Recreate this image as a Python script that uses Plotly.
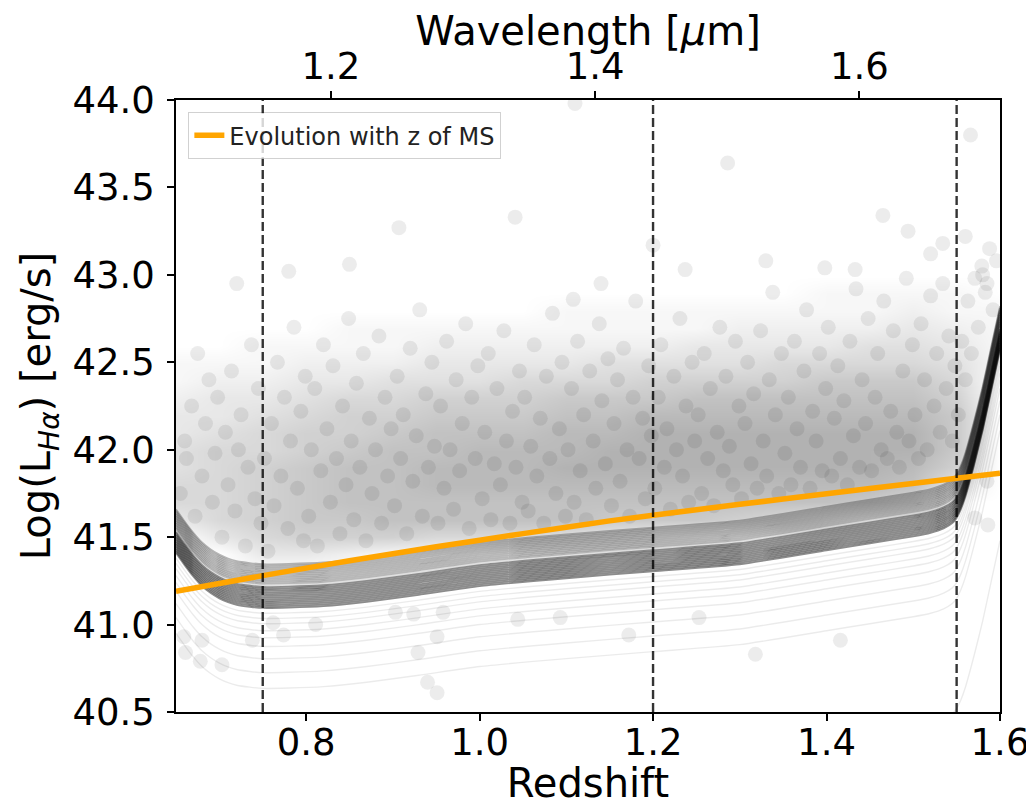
import numpy as np
import plotly.graph_objects as go

# ---------------- axes / reference values ----------------
z_range = [0.65, 1.6]
L_range = [40.5, 44.0]
HA_REST_UM = 0.65628
x_ticks = [0.8, 1.0, 1.2, 1.4, 1.6]
y_ticks = [40.5, 41.0, 41.5, 42.0, 42.5, 43.0, 43.5, 44.0]
wave_ticks = [1.2, 1.4, 1.6]
survey_z_limits = [0.75, 1.2, 1.55]

# ---------------- main-sequence evolution (orange) ----------------
ms_z = [0.65, 0.75, 0.85, 0.95, 1.05, 1.15, 1.25, 1.35, 1.45, 1.55, 1.60]
ms_L = [41.19, 41.28, 41.365, 41.445, 41.52, 41.593, 41.657, 41.718, 41.778, 41.837, 41.866]

# ---------------- flux-limit curves (black family) ----------------
limit_z = [0.65, 0.66, 0.67, 0.68, 0.69, 0.70, 0.71, 0.72, 0.735, 0.75, 0.78, 0.82,
           0.87, 0.93, 1.00, 1.10, 1.20, 1.30, 1.40, 1.45, 1.50, 1.52, 1.535, 1.545,
           1.55, 1.555, 1.56, 1.57, 1.58, 1.59, 1.60]
limit_L = [41.52, 41.45, 41.385, 41.33, 41.29, 41.26, 41.238, 41.223, 41.212, 41.205,
           41.207, 41.215, 41.24, 41.28, 41.33, 41.375, 41.415, 41.455, 41.535, 41.575,
           41.615, 41.635, 41.66, 41.69, 41.72, 41.77, 41.84, 42.02, 42.22, 42.45, 42.68]
limit_offsets_upper = [0.14, 0.13, 0.12, 0.11, 0.10, 0.09, 0.08, 0.07, 0.06, 0.05, 0.04, 0.03]
limit_offsets_gap = [0.02]
limit_offsets_lower = [0.01, 0.0, -0.01, -0.02, -0.03, -0.04, -0.05, -0.06, -0.07, -0.08,
                       -0.09, -0.10, -0.11]
limit_offsets_faint = [-0.14, -0.17, -0.20, -0.24, -0.28, -0.33, -0.40, -0.48, -0.57, -1.20]

# ---------------- galaxy cloud density (0-10) ----------------
density_z = [0.65, 0.70, 0.75, 0.80, 0.85, 0.90, 0.95, 1.00, 1.05, 1.10,
             1.15, 1.20, 1.25, 1.30, 1.35, 1.40, 1.45, 1.50, 1.55, 1.60]
density_L = [41.3, 41.4, 41.5, 41.6, 41.7, 41.8, 41.9, 42.0, 42.1, 42.2,
             42.3, 42.4, 42.5, 42.6, 42.7, 42.8, 42.9, 43.0, 43.1, 43.2]
density_by_z = [
    [0, 0, 0, 3, 5, 5, 4, 4, 3, 3, 2, 1, 1, 0, 0, 0, 0, 0, 0, 0],
    [0, 0, 3, 5, 5, 5, 5, 5, 4, 3, 3, 2, 1, 0, 0, 0, 0, 0, 0, 0],
    [0, 3, 5, 6, 6, 6, 6, 5, 5, 4, 3, 2, 1, 1, 0, 0, 0, 0, 0, 0],
    [0, 3, 6, 7, 7, 7, 7, 6, 6, 5, 4, 3, 2, 1, 0, 0, 0, 0, 0, 0],
    [0, 2, 6, 7, 8, 8, 8, 7, 6, 6, 5, 3, 2, 1, 1, 0, 0, 0, 0, 0],
    [0, 1, 6, 8, 8, 8, 8, 8, 7, 6, 5, 4, 2, 1, 1, 0, 0, 0, 0, 0],
    [0, 1, 5, 8, 8, 9, 9, 8, 8, 7, 6, 4, 3, 2, 1, 0, 0, 0, 0, 0],
    [0, 0, 5, 8, 8, 9, 9, 9, 8, 7, 6, 4, 3, 2, 1, 0, 0, 0, 0, 0],
    [0, 0, 5, 8, 8, 9, 9, 9, 8, 7, 6, 5, 3, 2, 1, 0, 0, 0, 0, 0],
    [0, 0, 4, 8, 8, 9, 10, 9, 9, 8, 7, 5, 3, 2, 1, 1, 0, 0, 0, 0],
    [0, 0, 3, 7, 8, 9, 10, 10, 9, 8, 7, 5, 4, 2, 1, 1, 0, 0, 0, 0],
    [0, 0, 2, 7, 8, 9, 10, 10, 10, 9, 7, 6, 4, 2, 1, 1, 0, 0, 0, 0],
    [0, 0, 1, 7, 8, 9, 10, 10, 10, 9, 8, 6, 4, 3, 1, 1, 0, 0, 0, 0],
    [0, 0, 0, 6, 8, 9, 10, 10, 10, 9, 8, 6, 4, 3, 2, 1, 0, 0, 0, 0],
    [0, 0, 0, 5, 8, 9, 10, 10, 10, 9, 8, 6, 5, 3, 2, 1, 0, 0, 0, 0],
    [0, 0, 0, 3, 8, 9, 10, 10, 10, 9, 8, 7, 5, 3, 2, 1, 1, 0, 0, 0],
    [0, 0, 0, 1, 7, 9, 10, 10, 10, 9, 8, 7, 5, 4, 2, 1, 1, 0, 0, 0],
    [0, 0, 0, 0, 5, 8, 9, 10, 10, 9, 8, 7, 5, 4, 3, 2, 1, 0, 0, 0],
    [0, 0, 0, 0, 0, 3, 6, 7, 7, 7, 6, 5, 4, 3, 2, 1, 1, 0, 0, 0],
    [0, 0, 0, 0, 0, 0, 0, 0, 0, 0, 0, 0, 1, 1, 1, 1, 0, 0, 0, 0],
]

# ---------------- individual galaxies (redshift, log L) ----------------
cloud_points = [
    (0.655, 41.75), (0.660, 42.05), (0.662, 41.95), (0.668, 42.25), (0.672, 41.62), (0.675, 42.55),
    (0.680, 41.85), (0.684, 42.15), (0.688, 42.40), (0.692, 41.70), (0.695, 41.98), (0.698, 42.30),
    (0.703, 41.50), (0.707, 42.10), (0.710, 41.80), (0.714, 42.45), (0.718, 41.65), (0.722, 42.00),
    (0.725, 42.20), (0.730, 41.45), (0.733, 41.90), (0.737, 42.60), (0.741, 41.72), (0.745, 42.35),
    (0.748, 41.58), (0.752, 41.95), (0.756, 41.42), (0.760, 42.15), (0.763, 41.68), (0.767, 42.50),
    (0.771, 41.85), (0.775, 42.30), (0.779, 41.55), (0.782, 42.05), (0.786, 42.70), (0.790, 41.78),
    (0.794, 42.22), (0.797, 41.48), (0.799, 42.42), (0.803, 41.62), (0.806, 42.00), (0.810, 42.35),
    (0.813, 41.45), (0.817, 41.88), (0.820, 42.60), (0.824, 42.12), (0.828, 41.70), (0.831, 42.48),
    (0.835, 41.95), (0.839, 41.52), (0.842, 42.25), (0.846, 41.80), (0.849, 42.75), (0.852, 42.05),
    (0.855, 41.60), (0.858, 42.38), (0.862, 41.90), (0.866, 42.55), (0.869, 41.48), (0.873, 42.18),
    (0.876, 41.75), (0.880, 42.00), (0.884, 42.65), (0.887, 41.58), (0.891, 42.30), (0.894, 41.85),
    (0.898, 42.12), (0.902, 41.68), (0.905, 42.42), (0.909, 41.95), (0.912, 42.20), (0.916, 41.52),
    (0.920, 42.58), (0.923, 41.82), (0.927, 42.08), (0.931, 42.80), (0.934, 41.62), (0.938, 42.32),
    (0.941, 41.90), (0.945, 42.50), (0.948, 42.02), (0.952, 41.58), (0.955, 42.25), (0.959, 41.78),
    (0.962, 42.62), (0.966, 42.00), (0.970, 41.66), (0.973, 42.40), (0.977, 41.88), (0.980, 42.15),
    (0.984, 42.72), (0.988, 41.55), (0.991, 42.30), (0.995, 41.95), (0.998, 42.48), (1.003, 41.72),
    (1.006, 42.10), (1.010, 42.55), (1.013, 41.60), (1.017, 41.92), (1.020, 42.35), (1.024, 41.80),
    (1.028, 42.68), (1.031, 42.05), (1.035, 41.58), (1.038, 42.22), (1.042, 41.90), (1.046, 42.45),
    (1.049, 41.70), (1.052, 42.30), (1.056, 41.65), (1.059, 42.02), (1.063, 42.60), (1.066, 41.85),
    (1.070, 42.18), (1.074, 41.58), (1.077, 42.42), (1.081, 41.95), (1.084, 42.78), (1.088, 41.75),
    (1.092, 42.12), (1.095, 42.50), (1.099, 41.62), (1.102, 42.00), (1.106, 42.35), (1.109, 41.70),
    (1.113, 42.62), (1.116, 41.88), (1.120, 42.20), (1.123, 41.60), (1.127, 42.45), (1.131, 42.05),
    (1.134, 41.78), (1.138, 42.72), (1.141, 42.28), (1.145, 41.92), (1.148, 42.52), (1.152, 41.68),
    (1.155, 42.15), (1.159, 42.40), (1.162, 41.82), (1.166, 42.58), (1.170, 42.00), (1.173, 41.62),
    (1.177, 42.30), (1.180, 42.85), (1.184, 41.95), (1.188, 42.18), (1.191, 41.72), (1.195, 42.48),
    (1.198, 42.08), (1.202, 41.78), (1.206, 42.30), (1.209, 42.60), (1.213, 41.90), (1.216, 42.12),
    (1.220, 41.66), (1.224, 42.42), (1.227, 42.00), (1.231, 42.75), (1.234, 41.85), (1.238, 42.25),
    (1.241, 41.70), (1.245, 42.50), (1.248, 42.05), (1.252, 42.20), (1.256, 41.75), (1.259, 42.55),
    (1.263, 41.95), (1.266, 42.35), (1.270, 41.68), (1.274, 42.10), (1.277, 42.70), (1.281, 41.88),
    (1.284, 42.42), (1.288, 42.02), (1.292, 41.80), (1.295, 42.62), (1.299, 42.25), (1.302, 41.72),
    (1.306, 42.15), (1.309, 42.50), (1.313, 41.92), (1.316, 42.32), (1.320, 41.78), (1.324, 42.68),
    (1.327, 42.05), (1.331, 41.85), (1.334, 42.40), (1.338, 42.90), (1.341, 42.20), (1.345, 41.75),
    (1.348, 42.55), (1.352, 41.98), (1.356, 42.30), (1.359, 41.80), (1.363, 42.62), (1.366, 42.12),
    (1.370, 41.90), (1.374, 42.45), (1.377, 42.80), (1.381, 41.78), (1.384, 42.22), (1.388, 42.05),
    (1.392, 42.55), (1.395, 41.88), (1.399, 42.35), (1.402, 42.70), (1.406, 41.85), (1.409, 42.18),
    (1.413, 42.48), (1.416, 41.95), (1.420, 42.28), (1.424, 41.80), (1.427, 42.62), (1.431, 42.08),
    (1.434, 42.92), (1.438, 41.90), (1.441, 42.40), (1.445, 42.15), (1.448, 42.75), (1.452, 41.88),
    (1.456, 42.30), (1.459, 42.55), (1.463, 42.00), (1.466, 42.85), (1.470, 41.95), (1.474, 42.22),
    (1.477, 42.68), (1.481, 42.10), (1.484, 41.90), (1.488, 42.45), (1.492, 42.98), (1.495, 42.05),
    (1.499, 42.60), (1.502, 42.20), (1.506, 41.95), (1.509, 42.72), (1.513, 42.40), (1.516, 42.00),
    (1.520, 42.88), (1.524, 42.25), (1.527, 42.55), (1.531, 42.10), (1.534, 42.95), (1.538, 42.35),
    (1.541, 42.65), (1.545, 42.05), (1.548, 42.48), (1.552, 42.20), (1.556, 42.62), (1.560, 42.40),
    (1.563, 42.85), (1.567, 42.55), (1.571, 42.98), (1.575, 42.70), (1.579, 43.05), (1.583, 42.90),
    (1.588, 43.15), (1.592, 42.80), (1.596, 43.08),
]
outlier_points = [
    (1.110, 43.98), (1.566, 43.80), (1.286, 43.64), (1.465, 43.34), (0.907, 43.27), (1.041, 43.33),
    (1.494, 43.25), (1.534, 43.18), (1.560, 43.22), (0.850, 43.06), (1.108, 42.86), (1.140, 42.95),
    (1.237, 43.03), (1.200, 43.17), (1.398, 43.04), (1.433, 43.03), (0.780, 43.02), (0.720, 42.95),
    (1.330, 43.08), (1.520, 43.12), (1.580, 43.00), (1.585, 42.95),
]
faint_points = [
    (0.661, 40.84), (0.678, 40.79), (0.703, 40.77), (0.680, 40.91), (0.659, 40.93), (0.774, 40.94),
    (0.811, 41.00), (0.738, 40.91), (0.762, 41.01), (0.903, 41.07), (0.924, 41.06), (0.958, 41.07),
    (0.951, 40.93), (0.929, 40.84), (0.940, 40.67), (0.951, 40.61), (1.172, 40.94), (1.253, 41.04),
    (1.318, 40.83), (1.416, 40.91), (1.044, 41.03), (1.093, 41.04), (1.571, 41.61), (1.586, 41.57),
    (1.585, 41.82),
]

# ======================================================================
fig = go.Figure()

# density of the galaxy cloud
dens = np.array(density_by_z, dtype=float).T
fig.add_trace(go.Heatmap(
    x=density_z, y=density_L, z=dens, zmin=0, zmax=10, zsmooth="best",
    colorscale=[[0, "rgba(0,0,0,0)"], [1, "rgba(0,0,0,0.30)"]],
    showscale=False, hoverinfo="skip",
))

# individual galaxies
all_pts = cloud_points + outlier_points + faint_points
fig.add_trace(go.Scatter(
    x=[p[0] for p in all_pts], y=[p[1] for p in all_pts], mode="markers",
    marker=dict(size=15, color="rgba(0,0,0,0.075)", line=dict(width=0)),
    showlegend=False, hoverinfo="skip",
))

# flux-limit curves
base = np.array(limit_L)
def add_limit(offsets, color, width):
    for off in offsets:
        fig.add_trace(go.Scatter(x=limit_z, y=base + off, mode="lines",
                                 line=dict(color=color, width=width, shape="spline", smoothing=0.5),
                                 showlegend=False, hoverinfo="skip"))

add_limit(limit_offsets_faint, "rgba(0,0,0,0.08)", 1.4)
add_limit(limit_offsets_upper, "rgba(0,0,0,0.28)", 1.8)
add_limit(limit_offsets_gap, "rgba(0,0,0,0.12)", 1.8)
add_limit(limit_offsets_lower, "rgba(0,0,0,0.45)", 1.8)

# MS evolution
fig.add_trace(go.Scatter(x=ms_z, y=ms_L, mode="lines", name="Evolution with z of MS",
                         line=dict(color="#FFA500", width=5.5, shape="spline", smoothing=0.6),
                         hoverinfo="skip"))

# survey redshift limits
for zl in survey_z_limits:
    fig.add_trace(go.Scatter(x=[zl, zl], y=L_range, mode="lines",
                             line=dict(color="rgba(0,0,0,0.8)", width=2.4, dash="9px,4px"),
                             showlegend=False, hoverinfo="skip"))

# wavelength axis carrier
fig.add_trace(go.Scatter(x=wave_ticks, y=[None] * len(wave_ticks), xaxis="x2", yaxis="y",
                         mode="markers", showlegend=False, hoverinfo="skip"))

FONT = "DejaVu Sans"
axis_common = dict(showgrid=False, zeroline=False, showline=True, linecolor="black", linewidth=1.5,
                   ticks="outside", ticklen=7, tickwidth=1.5, tickcolor="black", automargin=False,
                   tickfont=dict(family=FONT, size=37, color="black"))

# the page body adds an 8 px offset, so the figure is 8 px smaller and shifted accordingly
fig.update_layout(
    width=1026, height=798,
    margin=dict(l=168, r=34, t=92, b=94),
    paper_bgcolor="white", plot_bgcolor="white",
    font=dict(family=FONT, color="black"),
    xaxis=dict(range=z_range, tickvals=x_ticks, tickformat=".1f", mirror=True, ticklabelstandoff=-10,
               title=dict(text="Redshift", font=dict(family=FONT, size=40), standoff=4),
               **axis_common),
    xaxis2=dict(overlaying="x", side="top", anchor="y", ticklabelstandoff=-3,
                range=[HA_REST_UM * (1 + z_range[0]), HA_REST_UM * (1 + z_range[1])],
                tickvals=wave_ticks, tickformat=".1f",
                title=dict(text="Wavelength [<i>µ</i>m]", font=dict(family=FONT, size=40), standoff=6),
                **axis_common),
    yaxis=dict(range=L_range, tickvals=y_ticks, tickformat=".1f", mirror=True, ticklabelstandoff=5,
               title=dict(text="Log(L<sub><i>Hα</i></sub>) [erg/s]", font=dict(family=FONT, size=40), standoff=9),
               **axis_common),
    legend=dict(x=0.015, y=0.98, xanchor="left", yanchor="top",
                bgcolor="rgba(255,255,255,0.8)", bordercolor="rgba(0,0,0,0.18)", borderwidth=1,
                font=dict(family=FONT, size=24, color="#222")),
    showlegend=True,
)

fig.write_html("out.html")
